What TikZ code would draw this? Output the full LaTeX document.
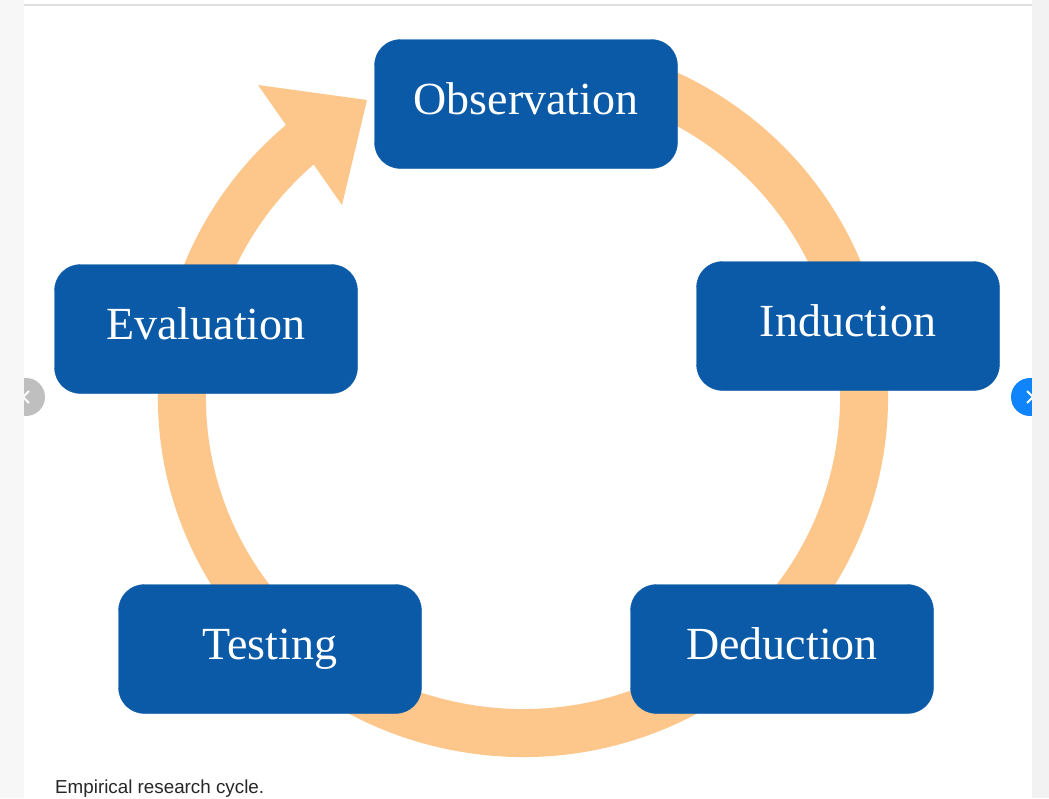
\documentclass[tikz,border=0pt]{standalone}
\usepackage{fontspec}
\setmainfont{Liberation Serif}
\newfontfamily\capfont{Liberation Sans}
\usepackage{tikz}
\definecolor{ringorange}{RGB}{253,198,138}
\definecolor{stageblue}{RGB}{11,90,167}
\definecolor{navblue}{RGB}{16,132,250}
\tikzset{
  stage/.style={draw=stageblue,fill=stageblue,rounded corners=26pt,
    minimum width=303pt,minimum height=129pt,inner sep=0pt,
    text=white,font=\fontsize{46}{50}\selectfont,
    text height=30pt,text depth=10pt},
  ring/.style={draw=ringorange,line width=48pt}
}

\begin{document}
\begin{tikzpicture}[x=1pt,y=-1pt]
  \useasboundingbox (0,0) rectangle (1049,798);
  \fill[white] (0,0) rectangle (1049,798);

  %the cycle
  \draw[ring] (523,398) ++(-80:341 and 335)
    arc[start angle=-80,end angle=231,x radius=341,y radius=335];
  \fill[ringorange] (258,85) -- (367,100) -- (342,205) -- cycle;

  %stages
  \foreach \nm/\x/\y/\txt in {obs/526/104/Observation,ind/848/326/Induction,
      ded/782/649/Deduction,tst/270/649/Testing,eva/206/329/Evaluation} {
    \node[stage] (\nm) at (\x,\y) {\txt};
  }

  %caption
  \node[anchor=base west,inner sep=0pt,text=black!85,
    font=\capfont\fontsize{18.8}{22}\selectfont] (cap) at (55,793)
    {Empirical research cycle.};

  %page buttons
  \fill[gray!50] (26,397) circle (19);
  \draw[white,line width=2pt] (29,391) -- (23,397) -- (29,403);
  \fill[navblue] (1030,397) circle (19);
  \draw[white,line width=2pt] (1027,391) -- (1033,397) -- (1027,403);
  \fill[black!3] (0,0) rectangle (24,798);
  \fill[black!5] (1032,0) rectangle (1049,798);
  \draw[black!12,line width=1.5pt] (24,5) -- (1032,5);
\end{tikzpicture}
\end{document}
